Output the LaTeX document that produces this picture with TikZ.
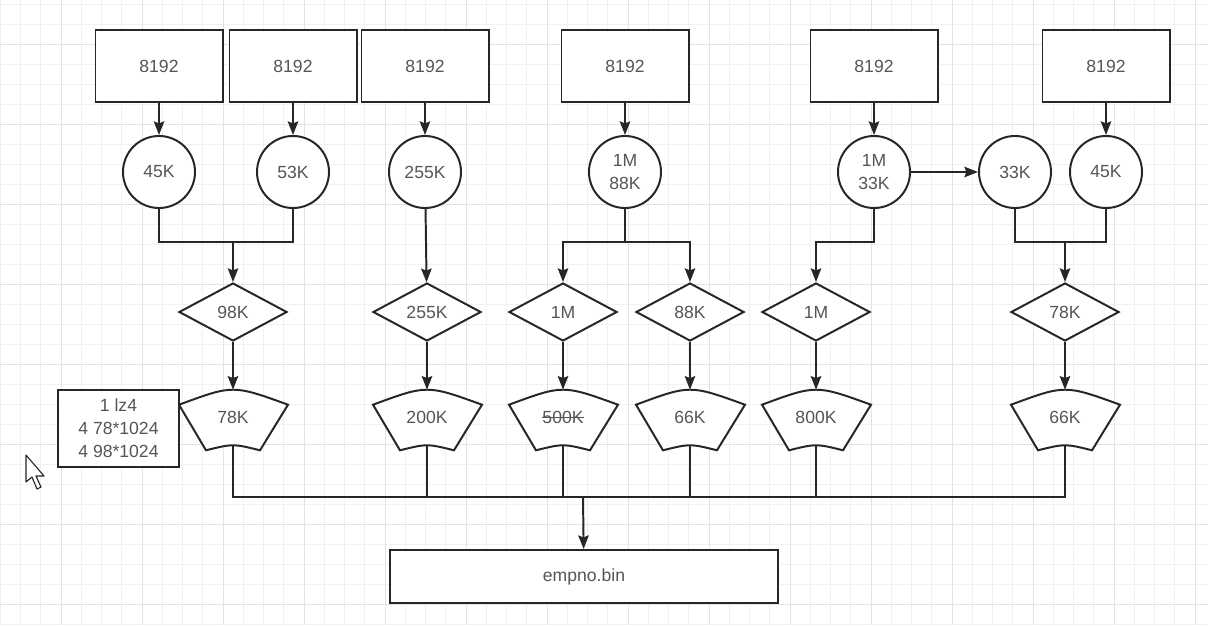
\documentclass[tikz,border=0pt]{standalone}
\usepackage{fontspec}
\setmainfont{Liberation Sans}
\usetikzlibrary{arrows.meta,calc,shapes.geometric,backgrounds}
\definecolor{linegray}{HTML}{262626}
\definecolor{textgray}{HTML}{555555}
\definecolor{gridminor}{HTML}{F1F1F1}
\definecolor{gridmajor}{HTML}{E3E3E3}
\newcommand\strk[1]{\setbox0\hbox{#1}\rlap{\raisebox{0.32em}{\rule{\wd0}{0.6pt}}}\box0}
\pgfdeclarelayer{grid}
\pgfsetlayers{grid,background,main}
\tikzset{
  line/.style={draw=linegray, line width=1.4pt},
  arr/.style={line, -{Stealth[length=3.4mm,width=2.6mm,inset=0.5mm]}},
  lbl/.style={text=textgray, font=\fontsize{12.5}{17}\selectfont, align=center, inner sep=0pt},
  box/.style={lbl, line, fill=white, minimum width=3.175cm, minimum height=1.8cm},
  circ/.style={lbl, line, fill=white, circle, minimum size=1.8cm},
  dia/.style={lbl, line, fill=white, diamond, minimum width=2.7cm, minimum height=1.45cm},
  sect/.style={lbl, rectangle, minimum width=2.7cm, minimum height=1.375cm},
  note/.style={box, minimum width=3.025cm, minimum height=1.925cm, font=\fontsize{12.5}{16.3}\selectfont},
  outbox/.style={box, minimum width=9.7cm, minimum height=1.325cm}
}
\begin{document}
\begin{tikzpicture}[x=0.025cm, y=-0.025cm]
      \useasboundingbox (0,0) rectangle (1208,625);
      % Draw the grid
      \begin{pgfonlayer}{grid}
        \fill[white] (0,0) rectangle (1208,625);
        \foreach \i in {0,...,59}
          \draw[gridminor, line width=0.5pt] ({0.25+20.25*\i},0) -- ++(0,625);
        \foreach \i in {0,...,31}
          \draw[gridminor, line width=0.5pt] (0,{4+20*\i}) -- ++(1208,0);
        \foreach \i in {3,7,...,59}
          \draw[gridmajor, line width=0.6pt] ({0.25+20.25*\i},0) -- ++(0,625);
        \foreach \i in {2,6,...,31}
          \draw[gridmajor, line width=0.6pt] (0,{4+20*\i}) -- ++(1208,0);
      \end{pgfonlayer}
      % Blocks
      \node[box] (r1) at (159,66) {8192};
      \node[box] (r2) at (293,66) {8192};
      \node[box] (r3) at (425,66) {8192};
      \node[box] (r4) at (625,66) {8192};
      \node[box] (r5) at (874,66) {8192};
      \node[box] (r6) at (1106,66) {8192};
      % Compressed sizes
      \node[circ] (c1) at (159,172) {45K};
      \node[circ] (c2) at (293,172) {53K};
      \node[circ] (c3) at (425,172) {255K};
      \node[circ] (c4) at (625,172) {1M\\88K};
      \node[circ] (c5) at (874,172) {1M\\33K};
      \node[circ] (c6) at (1015,172) {33K};
      \node[circ] (c7) at (1106,172) {45K};
      % Merged
      \node[dia] (d1) at (233,312) {98K};
      \node[dia] (d2) at (427,312) {255K};
      \node[dia] (d3) at (563,312) {1M};
      \node[dia] (d4) at (690,312) {88K};
      \node[dia] (d5) at (816,312) {1M};
      \node[dia] (d6) at (1065,312) {78K};
      % Packed
      \node[sect] (s1) at (233,417.5) {78K};
      \node[sect] (s2) at (427,417.5) {200K};
      \node[sect] (s3) at (563,417.5) {\strk{500K}};
      \node[sect] (s4) at (690,417.5) {66K};
      \node[sect] (s5) at (816,417.5) {800K};
      \node[sect] (s6) at (1065,417.5) {66K};
      \begin{pgfonlayer}{background}
        \foreach \s in {s1,s2,s3,s4,s5,s6}
          \draw[line, fill=white] ($(\s.north)+(-54,15)$) .. controls ($(\s.north)+(0,-5)$) .. ($(\s.north)+(55,15)$)
            -- ($(\s.south)+(27,5)$) .. controls ($(\s.south)+(0,-1.7)$) .. ($(\s.south)+(-27,5)$) -- cycle;
      \end{pgfonlayer}
      \node[note] (n1) at (118.5,428.5) {1 lz4\\4 78*1024\\4 98*1024};
      \node[outbox] (out) at (584,576.5) {empno.bin};
      % Joints
      \coordinate (j1) at (233,242);
      \coordinate (j4) at (625,242);
      \coordinate (j5) at (816,242);
      \coordinate (j6) at (1065,242);
      \coordinate (bus) at (583,497);
      % Arrows
      \foreach \i in {1,2,3,4,5}
        \draw[arr] (r\i) -- (c\i);
      \draw[arr] (r6) -- (c7);
      \draw[arr] (c5.east) -- (c6.west);
      \draw[line] (c1.south) |- (j1) -| (c2.south);
      \draw[arr] (j1) -- (d1);
      \draw[arr] (c3) -- (d2);
      \draw[line] (c4.south) -- (j4);
      \draw[arr] (j4) -| (d3);
      \draw[arr] (j4) -| (d4);
      \draw[arr] (c5.south) |- (j5) -- (d5);
      \draw[line] (c6.south) |- (j6) -| (c7.south);
      \draw[arr] (j6) -- (d6);
      \foreach \i in {1,...,6}
        \draw[arr] (d\i) -- (s\i);
      \foreach \s in {s1,s2,s3,s4,s5,s6}
        \draw[line] (\s.south) |- (bus);
      \draw[arr] (bus) -- (out);
      % Mouse pointer
      \draw[linegray, fill=white, line width=0.8pt, line join=round] (26,455) -- (26,482) -- (32,477) -- (37,489) -- (41,487) -- (36,476) -- (44,476) -- cycle;
    \end{tikzpicture}
\end{document}
